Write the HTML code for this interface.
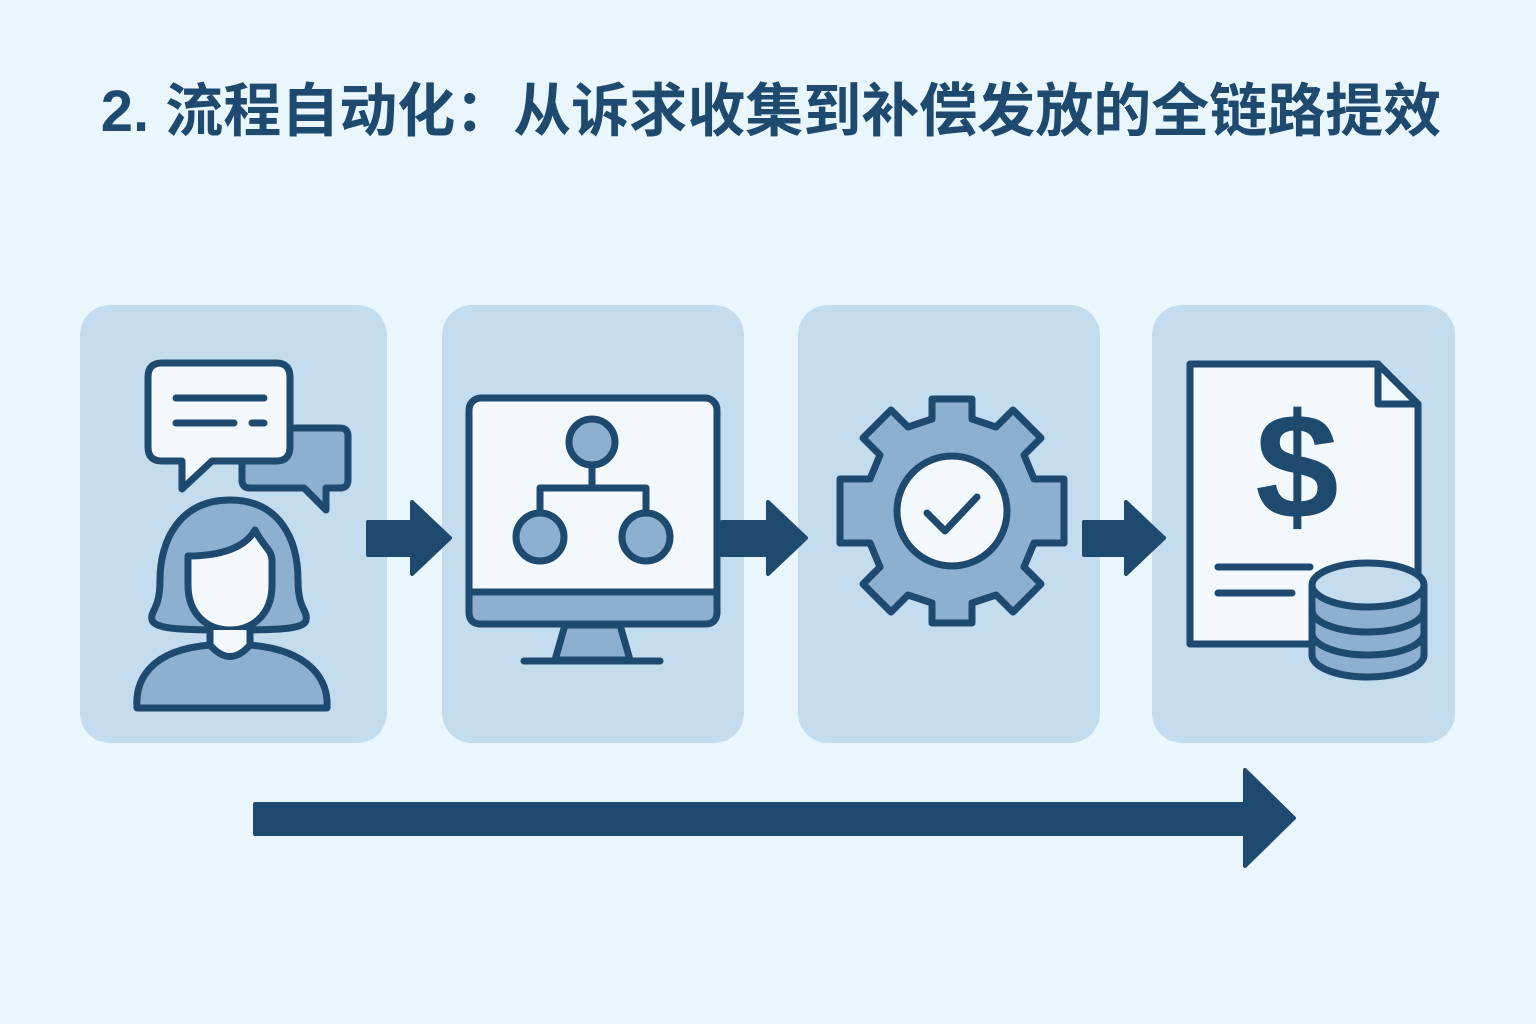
<!DOCTYPE html>
<html><head><meta charset="utf-8"><style>
html,body{margin:0;padding:0;background:#eaf6fd;}
svg{display:block}
</style></head><body>
<svg width="1536" height="1024" viewBox="0 0 1536 1024" xmlns="http://www.w3.org/2000/svg">
<rect width="1536" height="1024" fill="#eaf6fd"/>
<text x="771" y="131" text-anchor="middle" font-family="Liberation Sans, Noto Sans CJK SC, sans-serif" font-size="58" font-weight="bold" fill="#1f4a70">2. 流程自动化：从诉求收集到补偿发放的全链路提效</text>
<g fill="#c3dcee">
<rect x="80" y="305" width="307" height="438" rx="30"/>
<rect x="442" y="305" width="302" height="438" rx="30"/>
<rect x="798" y="305" width="302" height="438" rx="30"/>
<rect x="1152" y="305" width="303" height="438" rx="30"/>
</g>
<g fill="#1f4a70" stroke="#1f4a70" stroke-width="4" stroke-linejoin="round">
<path d="M368 522 H412 V502 L450 538 L412 574 V555 H368 Z"/>
<path d="M722 522 H768 V502 L806 538 L768 574 V555 H722 Z"/>
<path d="M1084 522 H1126 V502 L1164 538 L1126 574 V555 H1084 Z"/>
<path d="M255 804 H1245 V770 L1294 818 L1245 866 V834 H255 Z"/>
</g>
<g stroke="#1f4a70" stroke-width="7" stroke-linejoin="round" stroke-linecap="round">
<path d="M258 428 H340 Q348 428 348 436 V480 Q348 488 340 488 H326 V510 L304 488 H250 Q242 488 242 480 V436 Z" fill="#8eb0d0"/>
<path d="M162 363 H276 Q290 363 290 377 V447 Q290 461 276 461 H212 L182 489 V461 H162 Q148 461 148 447 V377 Q148 363 162 363 Z" fill="#f3f8fc"/>
<path d="M176 398 H264 M176 423 H234 M252 423 H264" fill="none"/>
<path d="M230 500 C180 500 160 540 160 580 C160 610 150 610 152 620 C155 630 190 630 230 630 C270 630 305 630 306 620 C308 610 298 610 298 580 C298 540 280 500 230 500 Z" fill="#8eb0d0"/>
<path d="M188 556 C220 556 245 548 255 530 C262 545 272 550 272 560 V585 C272 615 252 630 230 630 C208 630 188 615 188 585 Z" fill="#f3f8fc"/>
<path d="M210 630 V648 Q230 668 250 648 V630" fill="#f3f8fc"/>
<path d="M210 645 C150 650 135 680 137 708 H327 C329 680 310 650 250 645 Q230 668 210 645 Z" fill="#8eb0d0"/>
<rect x="469" y="398" width="248" height="226" rx="12" fill="#f3f8fc"/>
<path d="M469 592 H717 V612 Q717 624 705 624 H481 Q469 624 469 612 Z" fill="#8eb0d0"/>
<path d="M565 625 L555 660 H630 L620 625 Z" fill="#8eb0d0"/>
<path d="M524 661 H660" fill="none"/>
<circle cx="592" cy="442" r="23" fill="#8eb0d0"/>
<path d="M592 465 V488 M540 512 V488 H646 V512" fill="none"/>
<circle cx="540" cy="537" r="24" fill="#8eb0d0"/>
<circle cx="646" cy="537" r="24" fill="#8eb0d0"/>
<g transform="translate(952,511)">
<path fill="#8eb0d0" d="M-20 -112 H20 V-92 L44 -84 L61 -101 L89 -73 L72 -56 L82 -32 L112 -32 L112 32 L82 32 L72 56 L89 73 L61 101 L44 84 L20 92 V112 H-20 V92 L-44 84 L-61 101 L-89 73 L-72 56 L-82 32 L-112 32 L-112 -32 L-82 -32 L-72 -56 L-89 -73 L-61 -101 L-44 -84 L-20 -92 Z"/>
<circle r="55" fill="#f3f8fc"/>
<path d="M-25 2 L-7 20 L25 -14" fill="none"/>
</g>
<path d="M1190 364 H1378 L1418 404 V644 H1190 Z" fill="#f3f8fc"/>
<path d="M1378 364 V404 H1418" fill="none"/>
<path d="M1218 567 H1310 M1218 593 H1292" fill="none"/>
<path d="M1312 585 V655 A56 22 0 0 0 1424 655 V585" fill="#8eb0d0"/>
<path d="M1312 610 A56 22 0 0 0 1424 610 M1312 633 A56 22 0 0 0 1424 633" fill="none"/>
<ellipse cx="1368" cy="585" rx="56" ry="22" fill="#c3dcee"/>
</g>
<text x="1297" y="518" text-anchor="middle" font-family="Liberation Sans, sans-serif" font-size="150" font-weight="bold" fill="#1f4a70">$</text>
</svg>
</body></html>
